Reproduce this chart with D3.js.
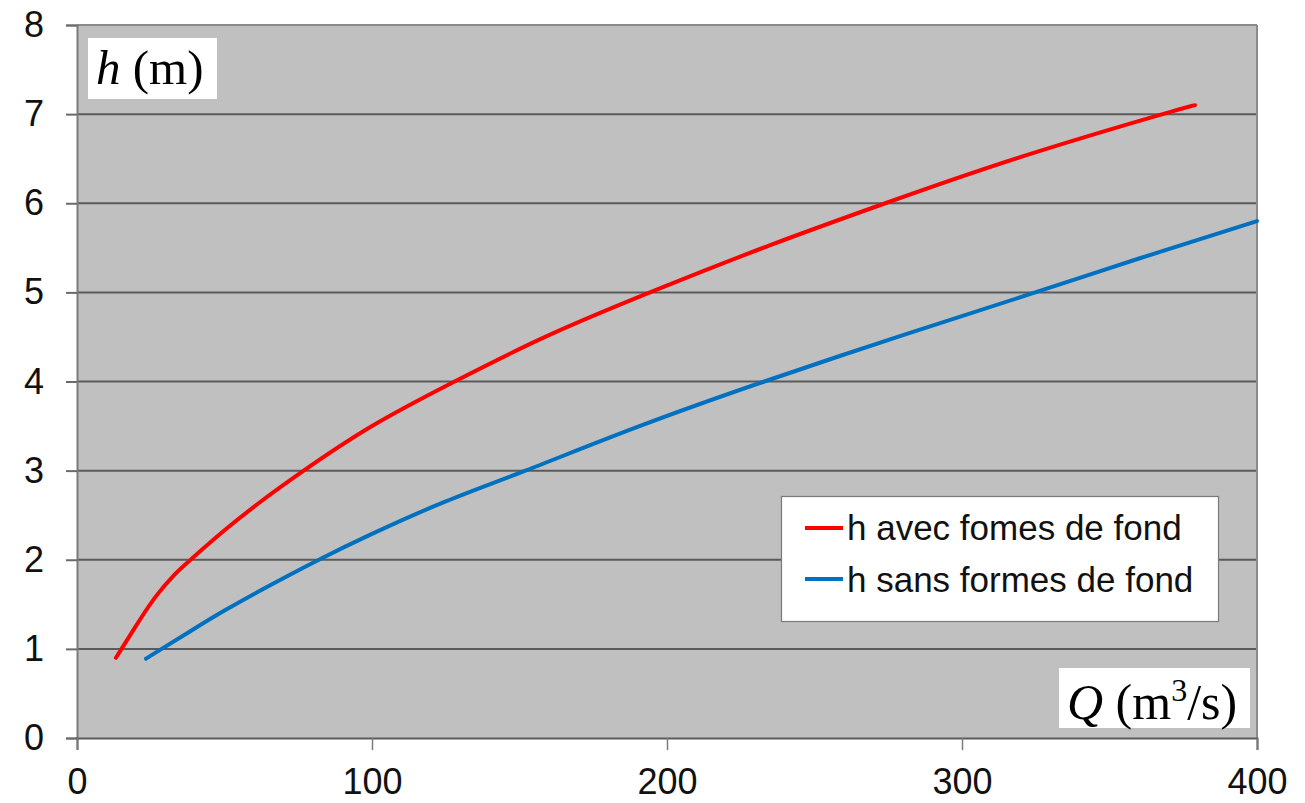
<!DOCTYPE html>
<html>
<head>
<meta charset="utf-8">
<script src="https://cdn.jsdelivr.net/npm/d3@7"></script>
<style>
  html, body { margin: 0; padding: 0; background: #fff; }
  svg { display: block; }
  .tick text { font-family: "Liberation Sans", Arial, sans-serif; font-size: 36px; fill: #111; }
</style>
</head>
<body>
<svg id="chart" width="1305" height="803"></svg>
<script>
// Rating curves: water depth h (m) against discharge Q (m3/s)
const avecQ = [13.2, 15.1, 21, 27, 33, 38.5, 50, 62, 76, 100, 128, 160, 198, 235, 274, 320, 368, 379];
const avecH = [0.9, 1.0, 1.31, 1.6, 1.83, 2.0, 2.33, 2.645, 2.98, 3.5, 4.0, 4.52, 5.05, 5.53, 6.0, 6.52, 7.0, 7.1];

const sansQ = [23.4, 28.7, 38, 50, 65, 82, 100, 125, 152, 190, 233, 280, 323, 360, 400];
const sansH = [0.89, 1.0, 1.19, 1.43, 1.705, 2.0, 2.29, 2.655, 3.0, 3.49, 4.0, 4.52, 4.98, 5.38, 5.8];

const xTicks = [0, 100, 200, 300, 400];
const yTicks = [0, 1, 2, 3, 4, 5, 6, 7, 8];

const seriesNames = ["h avec fomes de fond", "h sans formes de fond"];
const seriesColors = ["#ff0000", "#0070c0"];

const svg = d3.select("#chart");
const plotLeft = 77, plotRight = 1257, plotTop = 25, plotBottom = 738;

const x = d3.scaleLinear().domain([0, 400]).range([plotLeft, plotRight]);
const y = d3.scaleLinear().domain([0, 8]).range([plotBottom, plotTop]);

// plot background
svg.append("rect")
  .attr("x", plotLeft).attr("y", plotTop)
  .attr("width", plotRight - plotLeft).attr("height", plotBottom - plotTop)
  .attr("fill", "#c0c0c0");

// horizontal gridlines
svg.append("g")
  .selectAll("line")
  .data(yTicks.filter(d => d > 0))
  .join("line")
  .attr("x1", plotLeft).attr("x2", plotRight)
  .attr("y1", d => y(d)).attr("y2", d => y(d))
  .attr("stroke", d => d === 8 ? "#8a8a8a" : "#5a5a5a")
  .attr("stroke-width", 2);

// right border of plot area
svg.append("line")
  .attr("x1", plotRight).attr("x2", plotRight)
  .attr("y1", plotTop).attr("y2", plotBottom)
  .attr("stroke", "#8a8a8a").attr("stroke-width", 2);

// y axis
const yAxis = svg.append("g")
  .attr("transform", `translate(${plotLeft},0)`)
  .call(d3.axisLeft(y).tickValues(yTicks).tickFormat(d3.format("d")).tickSize(11).tickPadding(22));
yAxis.select(".domain").attr("stroke", "#7a7a7a").attr("stroke-width", 2);
yAxis.selectAll(".tick line").attr("stroke", "#6a6a6a").attr("stroke-width", 2);

// x axis
const xAxis = svg.append("g")
  .attr("transform", `translate(0,${plotBottom})`)
  .call(d3.axisBottom(x).tickValues(xTicks).tickFormat(d3.format("d")).tickSize(12).tickPadding(18));
xAxis.select(".domain").attr("stroke", "#5a5a5a").attr("stroke-width", 2);
xAxis.selectAll(".tick line").attr("stroke", "#7a7a7a").attr("stroke-width", 1.5);

// curves
const line = d3.line()
  .x(d => x(d[0]))
  .y(d => y(d[1]))
  .curve(d3.curveNatural);

const series = [
  d3.zip(avecQ, avecH),
  d3.zip(sansQ, sansH)
];

svg.append("g")
  .selectAll("path")
  .data(series)
  .join("path")
  .attr("d", line)
  .attr("fill", "none")
  .attr("stroke", (d, i) => seriesColors[i])
  .attr("stroke-width", 4)
  .attr("stroke-linecap", "round")
  .attr("stroke-linejoin", "round");

// legend
const legend = svg.append("g");
legend.append("rect")
  .attr("x", 781.5).attr("y", 496.5)
  .attr("width", 437).attr("height", 125)
  .attr("fill", "#fff")
  .attr("stroke", "#7a7a7a").attr("stroke-width", 1.2);

const rowY = [528, 579];
const rowBase = [540, 592];
seriesNames.forEach((name, i) => {
  legend.append("line")
    .attr("x1", 805).attr("x2", 843)
    .attr("y1", rowY[i]).attr("y2", rowY[i])
    .attr("stroke", seriesColors[i]).attr("stroke-width", 4);
  legend.append("text")
    .attr("x", 847).attr("y", rowBase[i])
    .attr("font-family", "'Liberation Sans', Arial, sans-serif")
    .attr("font-size", 35)
    .attr("fill", "#111")
    .text(name);
});

// axis titles in white boxes
svg.append("rect")
  .attr("x", 88).attr("y", 38).attr("width", 129).attr("height", 61)
  .attr("fill", "#fff");
const hTitle = svg.append("text")
  .attr("x", 96).attr("y", 84)
  .attr("font-family", "'Liberation Serif', 'Times New Roman', serif")
  .attr("font-size", 49)
  .attr("fill", "#000");
hTitle.append("tspan").attr("font-style", "italic").text("h");
hTitle.append("tspan").text(" (m)");

svg.append("rect")
  .attr("x", 1059).attr("y", 668).attr("width", 191).attr("height", 60)
  .attr("fill", "#fff");
const qTitle = svg.append("text")
  .attr("x", 1067).attr("y", 719)
  .attr("font-family", "'Liberation Serif', 'Times New Roman', serif")
  .attr("font-size", 50)
  .attr("fill", "#000");
qTitle.append("tspan").attr("font-style", "italic").text("Q");
qTitle.append("tspan").text(" (m");
qTitle.append("tspan").attr("font-size", 32).attr("dy", -18).text("3");
qTitle.append("tspan").attr("dy", 18).text("/s)");
</script>
</body>
</html>
